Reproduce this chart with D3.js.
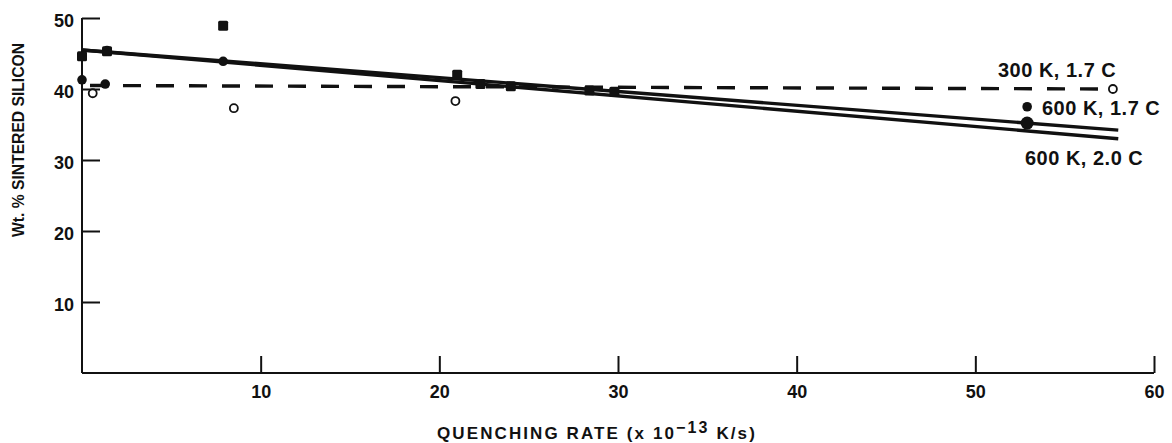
<!DOCTYPE html>
<html>
<head>
<meta charset="utf-8">
<script src="https://cdn.jsdelivr.net/npm/d3@7/dist/d3.min.js"></script>
<style>
  html, body { margin: 0; padding: 0; background: #fff; }
  svg text { font-family: "Liberation Sans", Arial, Helvetica, sans-serif; font-weight: bold; fill: #111; }
</style>
</head>
<body>
<svg id="chart" width="1172" height="443"></svg>
<script>
// Tick values
const xTicks = [10, 20, 30, 40, 50, 60];
const yTicks = [10, 20, 30, 40, 50];

// 300 K, 1.7 C measurements (open circles)
const open300X = [0.6, 8.5, 20.9, 57.7];
const open300Y = [39.4, 37.3, 38.3, 40.0];

// 600 K, 1.7 C measurements (filled circles)
const dot600X = [0, 1.3, 1.4, 7.9, 52.9];
const dot600Y = [41.3, 40.7, 45.4, 43.9, 37.5];

// 600 K, 2.0 C measurements (filled squares)
const sq600X = [0, 1.4, 7.9, 21.0, 22.3, 24.0, 28.4, 29.8];
const sq600Y = [44.6, 45.3, 48.9, 42.0, 40.7, 40.4, 39.8, 39.6];

// Large overlapping point at the high-rate end
const bigX = [52.9];
const bigY = [35.2];

// Fitted trend lines (end points)
const fit300X = [0, 57.7];
const fit300Y = [40.5, 40.0];
const fit617X = [0, 58];
const fit617Y = [45.5, 34.2];
const fit620X = [0, 58];
const fit620Y = [45.5, 33.0];

const svg = d3.select("#chart");
svg.append("rect").attr("width", 1172).attr("height", 443).attr("fill", "#fff");

const x = d3.scaleLinear().domain([0, 60]).range([82, 1154]);
const y = d3.scaleLinear().domain([0, 50]).range([373, 18]);

const ink = "#111";
const font = '"Liberation Sans", Arial, sans-serif';

// Axes: ticks point inward
const xAxis = d3.axisBottom(x).tickValues(xTicks).tickSizeInner(-17).tickSizeOuter(0).tickPadding(12);
const gx = svg.append("g").attr("transform", `translate(0,${y(0)})`).call(xAxis);
gx.select(".domain").attr("stroke", ink).attr("stroke-width", 2)
  .attr("d", `M${x(0)},0H${x(60)}`);
gx.selectAll(".tick line").attr("stroke", ink).attr("stroke-width", 2);
gx.selectAll(".tick text").attr("font-size", 18).attr("fill", ink)
  .attr("font-family", font).attr("font-weight", "bold");

const yAxis = d3.axisLeft(y).tickValues(yTicks).tickSizeInner(-18).tickSizeOuter(0).tickPadding(8);
const gy = svg.append("g").attr("transform", `translate(${x(0)},0)`).call(yAxis);
gy.select(".domain").attr("stroke", ink).attr("stroke-width", 2)
  .attr("d", `M0,${y(0)}V${y(50)}`);
gy.selectAll(".tick line").attr("stroke", ink).attr("stroke-width", 2);
gy.selectAll(".tick text").attr("font-size", 18).attr("fill", ink)
  .attr("font-family", font).attr("font-weight", "bold").attr("dy", "0.45em");

// Trend lines
const line = d3.line().x(d => x(d[0])).y(d => y(d[1]));
const pairs = (xs, ys) => xs.map((v, i) => [v, ys[i]]);

svg.append("path").attr("d", line(pairs(fit620X, fit620Y)))
  .attr("fill", "none").attr("stroke", ink).attr("stroke-width", 3.4);
svg.append("path").attr("d", line(pairs(fit617X, fit617Y)))
  .attr("fill", "none").attr("stroke", ink).attr("stroke-width", 3.4);
svg.append("path").attr("d", line(pairs(fit300X, fit300Y)))
  .attr("fill", "none").attr("stroke", ink).attr("stroke-width", 3.4)
  .attr("stroke-dasharray", "18,15").attr("stroke-dashoffset", -8);

// Markers
svg.append("g").selectAll("rect").data(pairs(sq600X, sq600Y)).join("rect")
  .attr("x", d => x(d[0]) - 5).attr("y", d => y(d[1]) - 5)
  .attr("width", 10).attr("height", 10).attr("rx", 1.5).attr("fill", ink);

svg.append("g").selectAll("circle").data(pairs(dot600X, dot600Y)).join("circle")
  .attr("cx", d => x(d[0])).attr("cy", d => y(d[1])).attr("r", 4.8).attr("fill", ink);

svg.append("g").selectAll("circle").data(pairs(bigX, bigY)).join("circle")
  .attr("cx", d => x(d[0])).attr("cy", d => y(d[1])).attr("r", 6.5).attr("fill", ink);

svg.append("g").selectAll("circle").data(pairs(open300X, open300Y)).join("circle")
  .attr("cx", d => x(d[0])).attr("cy", d => y(d[1])).attr("r", 4)
  .attr("fill", "#fff").attr("stroke", ink).attr("stroke-width", 1.8);

// Series labels
const labelAttrs = sel => sel.attr("font-size", 20).attr("letter-spacing", 0.5);
labelAttrs(svg.append("text").attr("x", 998).attr("y", 77).text("300 K, 1.7 C"));
labelAttrs(svg.append("text").attr("x", 1042).attr("y", 115).text("600 K, 1.7 C"));
labelAttrs(svg.append("text").attr("x", 1025).attr("y", 165).text("600 K, 2.0 C"));

// Axis titles
svg.append("text").attr("transform", "translate(24,140) rotate(-90)")
  .attr("text-anchor", "middle").attr("font-size", 17)
  .attr("textLength", 194).attr("lengthAdjust", "spacingAndGlyphs")
  .text("Wt. % SINTERED SILICON");

const xt = svg.append("text").attr("x", 437).attr("y", 439).attr("font-size", 17)
  .attr("letter-spacing", 2.1);
xt.append("tspan").text("QUENCHING RATE (x 10");
xt.append("tspan").attr("dy", -6).attr("font-size", 16).text("\u221213");
xt.append("tspan").attr("dy", 6).text(" K/s)");
</script>
</body>
</html>
